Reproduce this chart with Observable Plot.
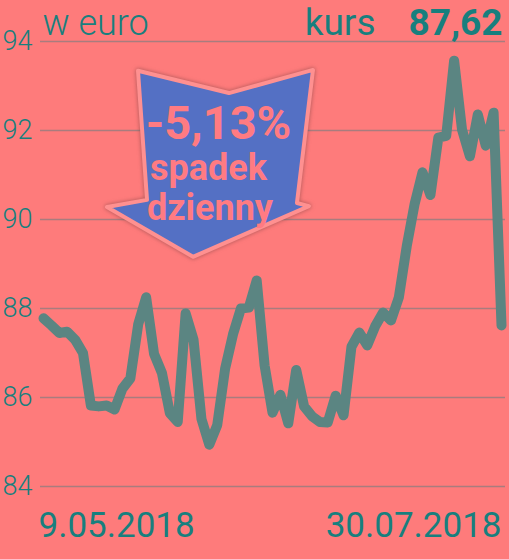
<!DOCTYPE html>
<html><head><meta charset="utf-8">
<script src="https://cdn.jsdelivr.net/npm/d3@7"></script>
<script src="https://cdn.jsdelivr.net/npm/@observablehq/plot@0.6"></script>
<style>html,body{margin:0;padding:0;background:#fe7b7b;}svg{display:block}</style>
</head><body><div id="chart"></div>
<script>
// Kurs (EUR), sesje 9.05.2018 – 30.07.2018
const values = [
  87.78, 87.62, 87.45, 87.48, 87.30, 87.00, 85.82, 85.80, 85.82, 85.73,
  86.20, 86.43, 87.65, 88.25, 86.98, 86.55, 85.65, 85.45, 87.89, 87.30,
  85.52, 84.94, 85.38, 86.65, 87.42, 88.00, 88.02, 88.63, 86.72, 85.66,
  86.06, 85.42, 86.62, 85.80, 85.58, 85.45, 85.44, 86.04, 85.60, 87.14,
  87.46, 87.17, 87.60, 87.91, 87.73, 88.25, 89.40, 90.35, 91.06, 90.55,
  91.84, 91.88, 93.57, 92.02, 91.42, 92.36, 91.66, 92.40, 87.62
];
const yTicks = [84, 86, 88, 90, 92, 94];
const startLabel = "9.05.2018";
const endLabel = "30.07.2018";
const titleLeft = "w euro";
const kursLabel = "kurs";
const kursValue = "87,62";
const arrowLines = ["-5,13%", "spadek", "dzienny"];
// arrow outline, in (session index, kurs) coordinates
const arrowX = [12.03, 23.55, 34.19, 32.16, 33.68, 19.0, 8.1, 13.17];
const arrowY = [93.33, 92.83, 93.35, 90.36, 90.29, 89.15, 90.27, 90.43];
const arrowTextX = [22.16, 20.89, 21.08];
const arrowTextY = [92.158, 91.158, 90.259];
const arrowTextSize = [47, 36, 36];

const data = values.map((v, i) => ({i, v}));
const teal = "#187f7e";

const arrowMark = (index, scales) => {
  const pts = arrowX.map((x, k) => [scales.x(x), scales.y(arrowY[k])]);
  const p = d3.create("svg:path")
    .attr("d", "M" + pts.map(p => p.join(",")).join("L") + "Z")
    .attr("fill", "#5470c4")
    .attr("stroke", "#ff9090")
    .attr("stroke-width", 4)
    .attr("stroke-linejoin", "round")
    .style("filter", "drop-shadow(0 0 2px rgba(110,60,60,0.6))");
  return p.node();
};

const chart = Plot.plot({
  width: 509,
  height: 559,
  marginTop: 41,
  marginBottom: 73,
  marginLeft: 40,
  marginRight: 4,
  style: {background: "#fe7b7b", fontFamily: "Roboto, sans-serif", overflow: "visible"},
  x: {domain: [0, values.length - 1], insetLeft: 3, insetRight: 4, axis: null},
  y: {domain: [84, 94], axis: null},
  marks: [
    Plot.ruleY(yTicks, {stroke: "#a87c7e", strokeWidth: 1.6}),
    Plot.text(yTicks, {y: d => d, text: d => String(d), frameAnchor: "left", textAnchor: "start", dx: -38, fill: teal, fontSize: 27, fontWeight: 300}),
    Plot.line(data, {x: "i", y: "v", stroke: "#5b8582", strokeWidth: 10, strokeLinejoin: "round", strokeLinecap: "round"}),
    arrowMark,
    Plot.text(arrowLines, {x: (d, k) => arrowTextX[k], y: (d, k) => arrowTextY[k], text: d => d, fill: "#ff7b82", fontWeight: "bold", fontSize: (d, k) => arrowTextSize[k]}),
    Plot.text([titleLeft], {frameAnchor: "top-left", text: d => d, textAnchor: "start", lineAnchor: "bottom", dx: 2, dy: -7, fill: teal, fontSize: 36, fontWeight: 300}),
    Plot.text([kursLabel], {frameAnchor: "top-right", text: d => d, textAnchor: "end", lineAnchor: "bottom", dx: -130, dy: -7, fill: teal, fontSize: 37}),
    Plot.text([kursValue], {frameAnchor: "top-right", text: d => d, textAnchor: "end", lineAnchor: "bottom", dx: -3, dy: -7, fill: teal, fontSize: 37, fontWeight: "bold"}),
    Plot.text([startLabel], {frameAnchor: "bottom-left", text: d => d, textAnchor: "start", lineAnchor: "bottom", dx: -2, dy: 50, fill: teal, fontSize: 35}),
    Plot.text([endLabel], {frameAnchor: "bottom-right", text: d => d, textAnchor: "end", lineAnchor: "bottom", dx: -4, dy: 50, fill: teal, fontSize: 35})
  ]
});
document.getElementById("chart").appendChild(chart);
</script>
</body></html>
